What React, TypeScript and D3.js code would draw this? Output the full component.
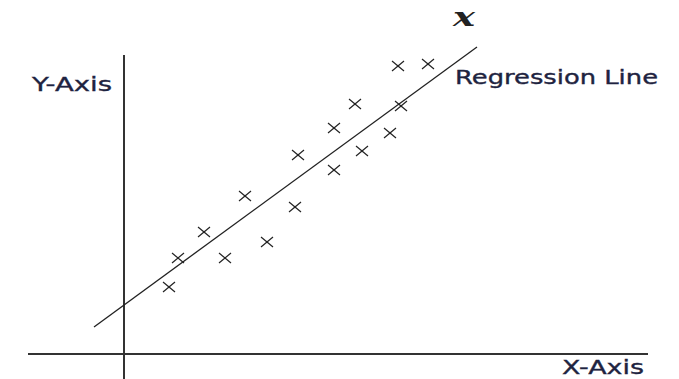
import React from "react";
import * as d3 from "d3";

// Observed sample values (x, y) in chart units
const sampleX = [1.8, 2.16, 3.2, 4.04, 4.84, 5.72, 6.84, 6.96, 8.4, 8.4, 9.24, 9.52, 10.64, 11.08, 10.96, 12.16];
const sampleY = [2.68, 3.84, 4.88, 3.84, 6.32, 4.48, 5.88, 7.96, 7.36, 9.04, 10.0, 8.12, 8.84, 9.92, 11.52, 11.6];

// Fitted regression line y = intercept + slope * x, drawn over this x span
const regIntercept = 1.96;
const regSlope = 0.731;
const regSpan = [-1.2, 14.12];

// Axis extents in chart units
const xAxisSpan = [-3.84, 20.96];
const yAxisSpan = [-1.0, 11.96];

const W = 679;
const H = 379;

export default function App() {
  const x = d3.scaleLinear().domain([0, 21]).range([124, 649]);
  const y = d3.scaleLinear().domain([0, 12]).range([354, 54]);

  const line = d3
    .line<number>()
    .x((d) => x(d))
    .y((d) => y(regIntercept + regSlope * d));

  const points = sampleX.map((v, i) => [v, sampleY[i]] as [number, number]);

  const textColor = "#1e2340";
  const labelFont = "'DejaVu Sans', Verdana, sans-serif";
  const labelProps = {
    fontFamily: labelFont,
    fontSize: 19,
    fill: textColor,
    stroke: textColor,
    strokeWidth: 0.35,
    lengthAdjust: "spacingAndGlyphs" as const,
  };

  return (
    <svg
      width={W}
      height={H}
      style={{ position: "absolute", left: 0, top: 0, background: "#fff" }}
    >
      {/* axes */}
      <line
        x1={x(xAxisSpan[0])}
        x2={x(xAxisSpan[1])}
        y1={y(0)}
        y2={y(0)}
        stroke="#333"
        strokeWidth={2}
      />
      <line
        x1={x(0)}
        x2={x(0)}
        y1={y(yAxisSpan[1])}
        y2={y(yAxisSpan[0])}
        stroke="#333"
        strokeWidth={2}
      />

      {/* regression line */}
      <path d={line(regSpan) || ""} fill="none" stroke="#222" strokeWidth={1.3} />

      {/* sample crosses */}
      {points.map(([px, py], i) => {
        const cx = x(px);
        const cy = y(py);
        return (
          <g key={i} stroke="#222" strokeWidth={1.2}>
            <line x1={cx - 6} y1={cy - 5} x2={cx + 6} y2={cy + 5} />
            <line x1={cx - 6} y1={cy + 5} x2={cx + 6} y2={cy - 5} />
          </g>
        );
      })}

      {/* labels */}
      <text x={32} y={91} textLength={80} {...labelProps}>
        Y-Axis
      </text>
      <text x={455} y={84} textLength={203} {...labelProps}>
        Regression Line
      </text>
      <text x={562} y={374} textLength={82} {...labelProps}>
        X-Axis
      </text>
      <text
        x={453}
        y={26}
        fontFamily="'DejaVu Serif', 'Liberation Serif', serif"
        fontStyle="italic"
        fontWeight="bold"
        fontSize={26}
        fill="#222"
        textLength={22}
        lengthAdjust="spacingAndGlyphs"
      >
        x
      </text>
    </svg>
  );
}
